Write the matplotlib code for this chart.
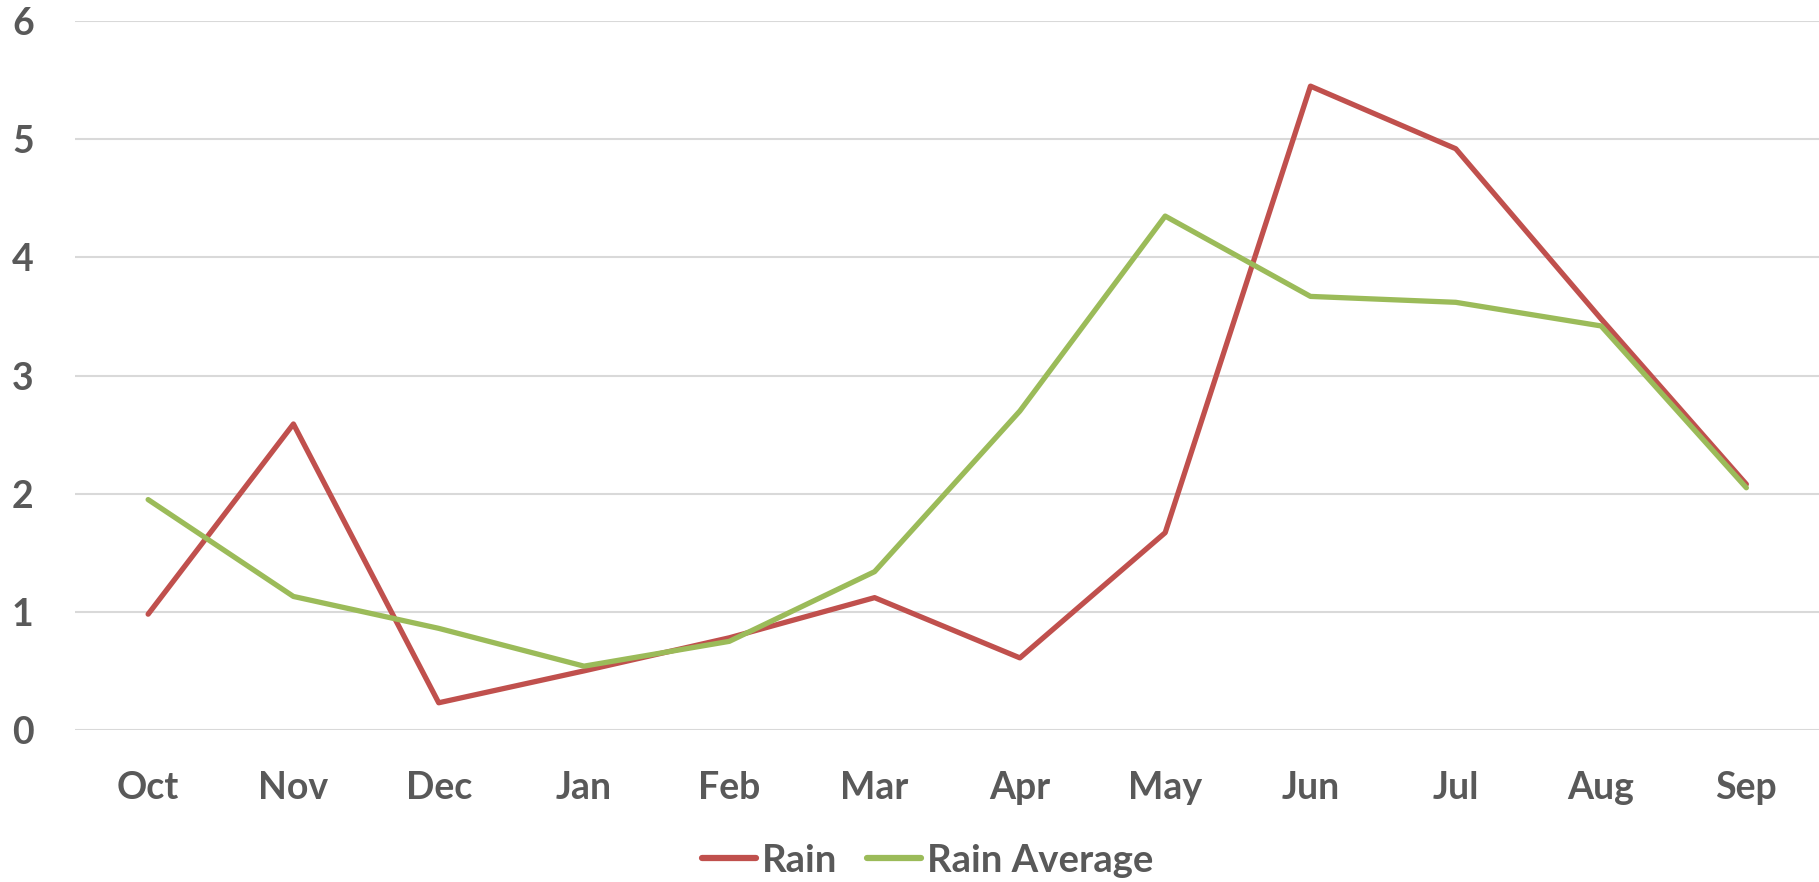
import matplotlib
matplotlib.use('Agg')
import matplotlib.pyplot as plt

# Monthly rain data (water year, Oct -> Sep)
months = ['Oct', 'Nov', 'Dec', 'Jan', 'Feb', 'Mar', 'Apr', 'May', 'Jun', 'Jul', 'Aug', 'Sep']
rain = [0.98, 2.59, 0.23, 0.50, 0.78, 1.12, 0.61, 1.67, 5.45, 4.92, 3.48, 2.08]
rain_avg = [1.95, 1.13, 0.86, 0.54, 0.75, 1.34, 2.70, 4.35, 3.67, 3.62, 3.42, 2.05]
yticks = [0, 1, 2, 3, 4, 5, 6]

text_color = '#595959'
plt.rcParams['font.family'] = ['Lato', 'DejaVu Sans']
plt.rcParams['font.weight'] = 'bold'

fig = plt.figure(figsize=(18.19, 8.82), dpi=100)
ax = fig.add_axes([0.0415, 0.1724, 0.9585, 0.8036])

x = range(len(months))
ax.plot(x, rain, color='#C0504D', lw=3.8, solid_joinstyle='round', solid_capstyle='round', label='Rain', zorder=3)
ax.plot(x, rain_avg, color='#9BBB59', lw=3.8, solid_joinstyle='round', solid_capstyle='round', label='Rain Average', zorder=3)

ax.set_xlim(-0.5, len(months) - 0.5)
ax.set_ylim(0, 6)
ax.set_xticks(list(x))
ax.set_xticklabels(months)
ax.set_yticks(yticks)

# Gridlines and axis styling
ax.grid(axis='y', color='#D9D9D9', lw=1.5, zorder=0)
ax.set_axisbelow(True)
for s in ax.spines.values():
	s.set_visible(False)
ax.tick_params(axis='both', length=0, labelsize=27, labelcolor=text_color)
ax.tick_params(axis='y', pad=30)
ax.tick_params(axis='x', pad=29.5)

leg = fig.legend(loc='lower center', bbox_to_anchor=(0.51, -0.034), ncol=2, frameon=False,
				 fontsize=27.5, handlelength=1.4, handletextpad=0.15, columnspacing=0.8)
for line in leg.get_lines():
	line.set_linewidth(4.5)
	line.set_solid_capstyle('round')
for t in leg.get_texts():
	t.set_color(text_color)

fig.savefig('out.png', dpi=100)
